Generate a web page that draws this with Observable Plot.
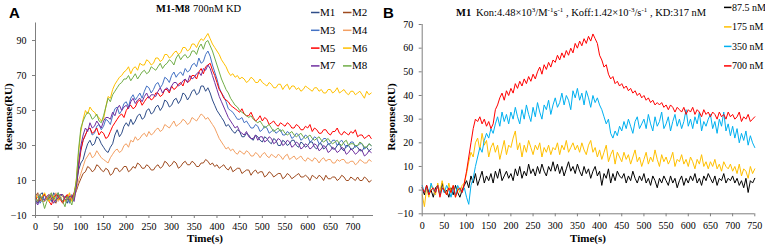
<!DOCTYPE html>
<html><head><meta charset="utf-8">
<script src="https://cdn.jsdelivr.net/npm/d3@7"></script>
<script src="https://cdn.jsdelivr.net/npm/@observablehq/plot@0.6"></script>
<style>
html,body{margin:0;padding:0;background:#fff;}
#wrap{position:relative;width:765px;height:249px;overflow:hidden;}
#wrap svg{position:absolute;top:0;}
</style></head><body><div id="wrap"></div>
<script>
// ---------- Panel A data (time step 5 s) ----------
const timeA = d3.range(0, 745, 5);
const namesA = ["M1","M2","M3","M4","M5","M6","M7","M8"];
const m1 = [-1,-3,2,3,-2,0,1,-2,3,1,-1,2,1,-1,-3,1,0,2,7,16,
20,22,27,31,33,30,31,35,34,31,29,27,26,29,31,36,39,35,37,41,
43,41,45,42,44,47,48,45,46,50,51,48,49,52,53,50,52,56,55,52,
53,56,57,54,56,60,59,56,58,61,62,59,60,64,64,61,63,60,56,53,
50,48,46,44,41,42,40,38,37,39,38,35,35,37,36,34,33,36,35,33,
32,35,34,32,31,34,33,30,30,33,32,30,31,33,33,30,29,32,31,29,
30,32,32,29,28,31,31,28,29,31,30,28,28,30,31,28,27,30,30,28,
28,30,29,27,27,29,29,27,28];
const m2 = [1,3,-2,0,2,-1,0,2,-1,-3,2,0,-2,1,1,-2,-1,1,4,8,
11,14,15,18,17,15,16,19,18,16,15,17,16,13,14,17,17,15,16,18,
18,15,16,18,17,20,19,17,17,19,18,16,16,18,19,17,18,21,20,18,
19,21,20,17,18,20,21,19,19,21,20,18,18,20,20,22,21,19,20,18,
19,17,18,19,17,16,18,15,16,17,17,14,15,16,16,13,15,16,14,15,
15,12,13,15,14,12,13,14,14,11,12,14,13,11,12,13,14,12,12,13,
12,10,13,12,11,13,12,10,13,11,11,12,12,10,11,13,12,10,10,12,
11,10,12,10,10,12,11,9,10];
const m3 = [0,2,-3,-1,2,0,-1,1,1,-2,3,0,-2,1,0,-3,2,0,9,20,
28,33,36,39,40,36,37,41,42,39,41,45,44,42,47,51,52,48,50,54,
55,52,57,59,56,58,60,57,61,64,63,60,62,65,66,63,65,69,68,66,
70,72,69,71,72,70,74,72,73,76,77,75,80,77,78,82,84,81,76,72,
68,63,60,58,55,51,50,49,47,45,45,46,43,44,42,40,40,42,41,38,
39,41,40,37,38,39,37,38,39,36,36,38,37,34,35,37,36,33,34,36,
35,32,33,35,34,31,32,34,34,31,31,33,33,30,32,33,31,29,30,32,
32,29,30,31,31,28,29,31,30];
const m4 = [-1,2,1,-2,-2,0,2,-1,0,3,-2,0,1,-1,-1,2,1,-1,5,10,
14,18,22,24,26,23,24,27,25,23,22,21,20,23,25,27,28,26,27,30,
31,29,33,32,35,33,34,36,37,35,38,36,37,39,40,38,39,42,41,40,
42,44,41,42,43,45,44,42,43,46,45,44,46,48,47,45,46,44,42,40,
37,34,32,30,28,29,27,28,26,25,27,26,25,27,26,24,24,26,25,23,
25,26,24,23,25,24,23,25,24,22,24,25,22,23,24,22,23,24,22,21,
23,22,21,23,22,20,22,23,21,22,22,20,20,22,21,22,22,20,20,21,
21,19,20,22,21,20,20,22,21];
const m5 = [1,-2,-1,1,2,0,-2,-4,0,2,1,-1,-3,0,2,-1,0,3,8,18,
27,33,36,39,40,37,38,40,36,38,37,34,35,38,41,43,45,47,48,46,
50,52,53,51,52,55,56,53,55,57,58,56,57,60,60,58,59,62,62,60,
64,62,63,65,66,64,68,66,67,70,70,68,72,74,71,75,76,77,73,70,
66,62,60,57,56,55,53,52,51,50,49,51,48,47,47,49,46,44,45,47,
44,46,45,42,43,44,42,41,43,42,41,43,42,40,40,42,41,39,39,41,
40,42,38,40,39,37,37,39,39,37,36,38,38,40,37,36,38,37,36,38,
37,39,35,36,36,34,35,36,34];
const m6 = [2,0,-1,1,3,0,-2,1,1,-1,-1,2,2,-2,0,3,-2,1,11,26,
38,45,50,48,52,50,49,47,46,44,45,52,58,57,62,65,67,69,70,72,
73,75,71,74,75,73,77,76,76,79,78,76,77,80,80,78,79,82,82,80,
81,83,84,82,83,86,86,84,85,88,88,86,89,91,90,92,94,91,88,86,
84,82,79,77,75,72,70,71,69,70,68,69,68,66,67,69,68,66,66,68,
66,65,64,66,65,63,63,65,65,62,64,65,62,64,64,62,63,61,62,64,
63,62,61,63,63,61,62,60,60,62,62,60,61,63,60,61,62,60,59,61,
61,59,60,61,59,57,61,59,60];
const m7 = [-2,-4,1,-1,-1,1,2,0,-3,-1,0,2,2,-1,-1,1,1,-2,6,19,
30,36,40,38,43,40,41,44,42,40,44,46,46,45,49,47,51,53,50,52,
53,51,55,57,54,56,57,55,58,60,57,59,59,58,61,63,60,62,63,61,
64,66,66,64,65,67,68,66,70,68,69,71,72,70,74,73,76,74,70,66,
62,58,55,52,49,46,44,42,40,41,38,37,36,38,35,34,34,36,33,35,
35,32,33,35,34,31,32,34,33,30,31,33,32,29,30,32,31,28,29,31,
30,28,29,31,30,27,28,30,29,26,27,29,28,26,27,29,28,25,26,28,
27,25,26,28,27,24,25,27,26];
const m8 = [0,-2,2,-1,-6,-2,1,3,-1,1,3,0,-2,-5,1,-1,-4,2,10,28,
40,44,47,49,48,45,46,48,44,43,47,52,57,55,59,61,63,65,66,68,
68,70,67,69,71,68,70,72,73,71,72,75,74,73,75,77,74,76,77,79,
78,76,80,82,79,81,82,80,81,84,84,82,86,88,85,89,90,87,84,80,
76,72,68,65,62,60,57,55,53,52,50,49,48,47,46,47,45,44,43,44,
42,40,41,42,40,38,39,40,38,39,37,36,37,38,36,35,36,37,35,34,
35,36,34,33,34,35,33,32,33,34,32,31,32,33,31,30,32,33,30,31,
31,30,30,32,31,29,29,31,30];
const xTicksA = [0,50,100,150,200,250,300,350,400,450,500,550,600,650,700];
const yTicksA = [-10,10,30,50,70,90];

// ---------- Panel B data (time step 5 s) ----------
const timeB = d3.range(0, 755, 5);
const namesB = ["87.5 nM","175 nM","350 nM","700 nM"];
const c875 = [1,-2,2,-1,0,-3,1,2,-2,3, -1,0,-3,1,-2,2,-1,-3,0,2, 4,1,6,3,7,2,5,8,3,6, 4,7,3,8,5,9,4,6,8,5, 7,4,9,6,10,5,8,6,11,7, 9,6,10,7,11,8,6,10,8,12, 8,11,7,10,6,9,12,8,10,7, 11,8,6,10,7,9,5,8,10,6, 8,2,7,5,9,3,7,4,8,6, 5,7,3,6,4,8,5,3,6,4, 7,3,5,2,6,4,1,5,3,6, 4,2,6,3,5,1,4,6,2,5, 3,6,4,7,3,5,2,6,4,7, 5,3,6,2,5,4,7,3,5,4, 6,3,5,2,4,1,5,-1,4,3, 5];
const c175 = [-2,-7,1,-3,2,0,-2,3,-1,4, 0,-2,3,-1,2,-3,1,-1,2,3, 7,12,16,14,20,22,17,24,19,21, 14,18,20,16,19,13,17,21,15,19, 18,22,25,17,20,14,19,16,21,18, 15,19,17,20,14,18,16,19,15,18, 17,20,15,19,17,21,16,18,20,17, 19,16,20,17,15,19,21,16,18,14, 17,13,16,19,12,15,17,11,16,14, 12,16,13,15,11,14,17,12,14,10, 13,16,11,14,12,17,13,10,15,12, 14,11,13,16,10,13,12,15,11,13, 10,14,12,9,13,11,15,10,12,9, 12,10,13,9,11,8,12,10,9,11, 8,10,7,11,6,9,8,5,10,7, 9];
const c350 = [2,-1,1,-2,3,0,-1,2,-2,1, -1,2,0,-3,1,-2,2,0,-1,1, -3,-6,2,5,10,14,18,16,21,24, 22,26,24,28,31,27,33,29,32,28, 33,30,35,31,28,34,30,36,32,29, 35,31,37,33,30,36,34,38,32,36, 39,35,37,41,36,40,38,34,42,39, 43,38,41,36,42,39,35,40,37,39, 36,34,31,28,30,24,22,25,23,27, 25,29,26,30,27,24,29,31,26,28, 30,26,32,28,25,31,27,29,33,26, 28,31,25,29,32,27,30,26,29,34, 27,30,26,31,28,33,25,29,27,30, 32,26,29,24,30,27,33,25,28,23, 27,22,26,20,24,21,25,19,23,20, 18];
const c700 = [1,-1,2,-2,0,1,-1,2,-3,1, 0,-2,1,-1,2,-3,0,1,-1,3, 8,14,20,26,30,29,31,28,30,27, 29,26,28,34,36,39,41,38,42,40, 43,41,45,43,46,44,47,45,48,46, 49,47,50,52,49,53,51,54,52,55, 54,57,55,58,56,59,57,60,58,62, 60,63,61,64,62,65,63,66,64,62, 57,55,52,53,49,47,48,45,46,44, 45,43,44,42,43,41,42,40,41,39, 40,38,39,37,38,36,37,36,37,35, 36,34,36,35,33,35,34,33,35,32, 34,33,35,32,34,33,31,34,32,33, 31,33,32,30,33,31,32,30,33,31, 32,30,31,33,29,31,30,32,29,30, 31];
const xTicksB = [0,50,100,150,200,250,300,350,400,450,500,550,600,650,700,750];
const yTicksB = [-10,0,10,20,30,40,50,60,70];

// ---------- styles ----------
const colorsA = ["#2F4D88","#9E4A1E","#4472C4","#F3A063","#FF0000","#FFC000","#7030A0","#70AD47"];
const colorsB = ["#000000","#FFC000","#00B0F0","#FF0000"];
const axisGray = "#7f7f7f";
const serif = "'Liberation Serif','Times New Roman',serif";

const wrap = document.getElementById("wrap");

function panel({left, width, margins, xDomain, yDomain, xTicks, yTicks, time, series, colors, xPad}) {
  const svg = Plot.plot({
    width, height: 249,
    marginLeft: margins[0], marginRight: margins[1], marginTop: margins[2], marginBottom: margins[3],
    x: {domain: xDomain}, y: {domain: yDomain},
    style: {fontFamily: serif, fontSize: "10px", color: "black", background: "transparent", overflow: "visible"},
    marks: [
      Plot.axisX({ticks: xTicks, tickSize: 3, tickPadding: xPad, label: null, stroke: axisGray, fill: "black"}),
      Plot.axisY({ticks: yTicks, tickSize: 3, tickPadding: 6, label: null, stroke: axisGray, fill: "black"}),
      ...series.map((vals, k) => Plot.line(vals, {x: time, y: d => d, stroke: colors[k], strokeWidth: 1})),
      Plot.ruleX([xDomain[0]], {stroke: axisGray}),
      Plot.ruleY([yDomain[0]], {stroke: axisGray})
    ]
  });
  svg.style.left = left + "px";
  wrap.appendChild(svg);
}

panel({left: 0, width: 383, margins: [35, 10, 22.5, 34], xDomain: [0, 745], yDomain: [-10, 100],
  xTicks: xTicksA, yTicks: yTicksA, time: timeA, series: [m1,m2,m3,m4,m5,m6,m7,m8], colors: colorsA, xPad: 4});
panel({left: 383, width: 382, margins: [38.7, 10.7, 24, 35.7], xDomain: [0, 750], yDomain: [-10, 70],
  xTicks: xTicksB, yTicks: yTicksB, time: timeB, series: [c875,c175,c350,c700], colors: colorsB, xPad: 5});

// ---------- overlay: labels, titles, legends ----------
const ov = d3.select(wrap).append("svg").attr("width", 765).attr("height", 249)
  .style("left", "0px").style("font-family", serif);

ov.append("text").attr("x", 9).attr("y", 18).text("A")
  .style("font-family", "'Liberation Sans',Arial,sans-serif").style("font-weight", "bold").style("font-size", "15px");
ov.append("text").attr("x", 383).attr("y", 18).text("B")
  .style("font-family", "'Liberation Sans',Arial,sans-serif").style("font-weight", "bold").style("font-size", "15px");

// axis titles
[[12, 117], [395, 117]].forEach(([x, y]) => {
  ov.append("text").attr("transform", `translate(${x},${y}) rotate(-90)`).attr("text-anchor", "middle")
    .style("font-weight", "bold").style("font-size", "11px").text("Response(RU)");
});
[[205, 242], [588, 242]].forEach(([x, y]) => {
  ov.append("text").attr("x", x).attr("y", y).attr("text-anchor", "middle")
    .style("font-weight", "bold").style("font-size", "11px").text("Time(s)");
});

// titles
const tA = ov.append("text").attr("x", 156).attr("y", 12).style("font-size", "10.5px");
tA.append("tspan").style("font-weight", "bold").text("M1-M8");
tA.append("tspan").attr("x", 193).text("700nM KD");

const tB = ov.append("text").attr("x", 456).attr("y", 16).style("font-size", "10.5px");
tB.append("tspan").style("font-weight", "bold").text("M1");
const parts = [["Kon:4.48×10", 0], ["3", 1], ["/M", 0], ["-1", 1], ["s", 0], ["-1", 1],
  [" , Koff:1.42×10", 0], ["-3", 1], ["/s", 0], ["-1", 1], [" , KD:317 nM", 0]];
let sup = false, first = true;
parts.forEach(([s, isSup]) => {
  const ts = tB.append("tspan").text(s);
  if (first) { ts.attr("x", 476); first = false; }
  if (isSup && !sup) { ts.attr("dy", -4).style("font-size", "7px"); sup = true; }
  else if (isSup && sup) { ts.style("font-size", "7px"); }
  else if (!isSup && sup) { ts.attr("dy", 4); sup = false; }
});

// legend A (2 columns x 4 rows)
namesA.forEach((n, i) => {
  const col = i % 2, row = Math.floor(i / 2);
  const x0 = col === 0 ? 311 : 343;
  const yb = 16 + row * 17.8;
  ov.append("line").attr("x1", x0).attr("x2", x0 + 8.5).attr("y1", yb - 3.5).attr("y2", yb - 3.5)
    .attr("stroke", colorsA[i]).attr("stroke-width", 1.5);
  ov.append("text").attr("x", x0 + 9).attr("y", yb).style("font-size", "11px").text(n);
});
// legend B
namesB.forEach((n, i) => {
  const yb = 10.7 + i * 19.5;
  ov.append("line").attr("x1", 724).attr("x2", 731.5).attr("y1", yb - 3.3).attr("y2", yb - 3.3)
    .attr("stroke", colorsB[i]).attr("stroke-width", 1.5);
  ov.append("text").attr("x", 732).attr("y", yb).style("font-size", "10px").text(n);
});
</script></body></html>
